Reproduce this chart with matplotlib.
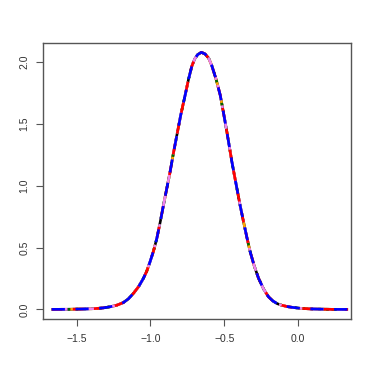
import matplotlib
matplotlib.use("Agg")
import matplotlib.pyplot as plt

# Density curve
x_vals = [-1.67, -1.55, -1.45, -1.38, -1.32, -1.274, -1.23, -1.184, -1.15, -1.116,
          -1.08, -1.048, -1.025, -1.003, -0.98, -0.957, -0.935, -0.912, -0.89, -0.867,
          -0.845, -0.821, -0.795, -0.765, -0.742, -0.720, -0.700, -0.680, -0.655, -0.630,
          -0.605, -0.584, -0.555, -0.527, -0.505, -0.482, -0.465, -0.448, -0.431, -0.414,
          -0.392, -0.369, -0.346, -0.324, -0.296, -0.267, -0.233, -0.200, -0.170, -0.140,
          -0.109, -0.070, -0.030, 0.020, 0.080, 0.15, 0.25, 0.34]
y_vals = [0.0, 0.001, 0.003, 0.006, 0.012, 0.021, 0.033, 0.055, 0.085, 0.129,
          0.185, 0.251, 0.31, 0.385, 0.47, 0.574, 0.70, 0.843, 0.975, 1.112,
          1.26, 1.409, 1.57, 1.732, 1.86, 1.965, 2.025, 2.060, 2.078, 2.065,
          2.030, 1.970, 1.86, 1.732, 1.59, 1.436, 1.315, 1.194, 1.085, 0.978,
          0.84, 0.708, 0.58, 0.466, 0.35, 0.251, 0.165, 0.102, 0.068, 0.046,
          0.033, 0.022, 0.015, 0.008, 0.004, 0.002, 0.0, 0.0]

series_names = ["black", "orange", "green", "violet", "red", "blue"]
series_colors = ["black", "orange", "darkgreen", "violet", "red", "blue"]
series_dashes = [None, (4, 3), (1, 2), (6, 2, 1, 2), (4, 4), (5, 4)]

x_ticks = [-1.5, -1.0, -0.5, 0.0]
y_ticks = [0.0, 0.5, 1.0, 1.5, 2.0]

plt.rcParams['font.family'] = ['Liberation Sans', 'DejaVu Sans']
fig = plt.figure(figsize=(3.74, 3.74), dpi=100)
ax = fig.add_axes([0.1158, 0.147, 0.8235, 0.7372])

for name, col, dsh in zip(series_names, series_colors, series_dashes):
    line, = ax.plot(x_vals, y_vals, color=col, lw=1.9, solid_capstyle='butt',
                    solid_joinstyle='round')
    if dsh is not None:
        line.set_dashes(dsh)

ax.set_xlim(-1.727, 0.362)
ax.set_ylim(-0.078, 2.151)
ax.set_xticks(x_ticks)
ax.set_xticklabels([f"{t:.1f}".replace("-", "\u2212") for t in x_ticks])
ax.set_yticks(y_ticks)
ax.set_yticklabels([f"{t:.1f}" for t in y_ticks], rotation=90, va='center')
for s in ax.spines.values():
    s.set_color('#555555')
    s.set_linewidth(1.0)
ax.tick_params(axis='both', direction='out', length=5, width=0.8, color='#555555',
               labelsize=7.5, labelcolor='#333333', pad=5)
ax.tick_params(axis='x', pad=6)

fig.savefig("out.png", dpi=100)
